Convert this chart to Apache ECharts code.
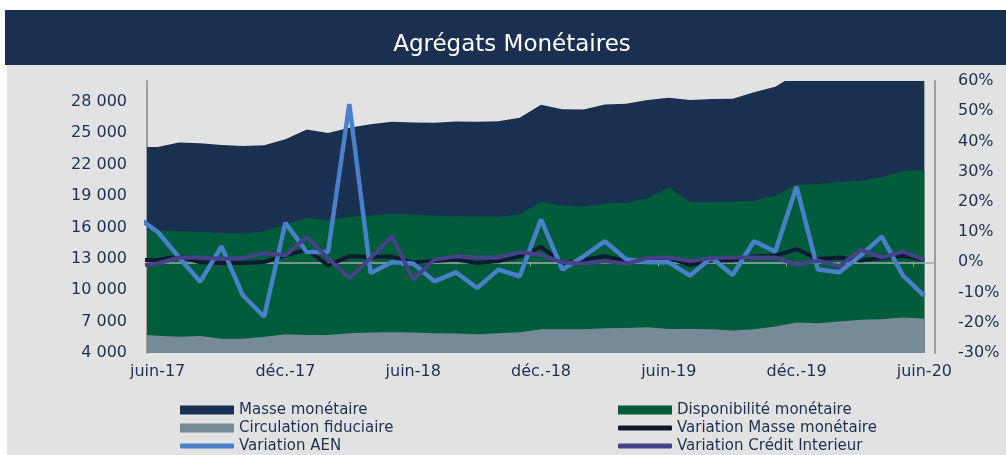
<!DOCTYPE html>
<html>
<head>
<meta charset="utf-8">
<title>Agrégats Monétaires</title>
<script src="https://cdn.jsdelivr.net/npm/echarts@6.0.0/dist/echarts.min.js"></script>
<style>
  html, body { margin: 0; padding: 0; background: #fff; }
  #chart { width: 1006px; height: 455px; }
</style>
</head>
<body>
<div id="chart"></div>
<script>
// mois : mai-17 ne sert qu'au départ des courbes (coupé par le cadre)
var mois = ['mai-17', 'juin-17', 'juil.-17', 'août-17', 'sept.-17', 'oct.-17', 'nov.-17', 'déc.-17',
    'janv.-18', 'févr.-18', 'mars-18', 'avr.-18', 'mai-18', 'juin-18', 'juil.-18', 'août-18', 'sept.-18', 'oct.-18', 'nov.-18', 'déc.-18',
    'janv.-19', 'févr.-19', 'mars-19', 'avr.-19', 'mai-19', 'juin-19', 'juil.-19', 'août-19', 'sept.-19', 'oct.-19', 'nov.-19', 'déc.-19',
    'janv.-20', 'févr.-20', 'mars-20', 'avr.-20', 'mai-20', 'juin-20'];

// encours (axe gauche)
var masseMonetaire = [23700, 23700, 24120, 24050, 23890, 23790, 23860, 24430, 25370, 25040, 25540, 25870, 26100,
    26040, 26000, 26140, 26100, 26160, 26480, 27730, 27310, 27280, 27760, 27820, 28180, 28400, 28180, 28270,
    28300, 28920, 29450, 30700, 30800, 31000, 31200, 31400, 31600, 31800];
var disponibilite = [15780, 15700, 15640, 15580, 15480, 15420, 15640, 16280, 16920, 16690, 17020, 17140, 17320,
    17210, 17110, 17080, 17050, 17020, 17240, 18460, 18100, 17980, 18300, 18360, 18800, 19850, 18420, 18420,
    18490, 18550, 19060, 20090, 20150, 20340, 20470, 20790, 21390, 21460];
var circulation = [5800, 5660, 5560, 5630, 5370, 5370, 5560, 5790, 5730, 5730, 5890, 5950, 5980,
    5950, 5890, 5860, 5790, 5890, 5980, 6270, 6270, 6270, 6370, 6400, 6470, 6300, 6300, 6270,
    6140, 6270, 6530, 6910, 6850, 7000, 7170, 7230, 7390, 7290];

// variations en % (axe droit)
var variationMasse = [0.8, 0.8, 2.0, 0.0, -0.2, -0.2, 0.1, 2.3, 4.2, -1.0, 2.0, 1.8, 1.9,
    0.0, 0.4, 0.9, -0.2, 0.4, 2.0, 5.1, -0.2, 0.9, 2.0, 0.4, 0.4, 1.4, -0.8, 0.6,
    0.6, 1.9, 2.2, 4.4, 1.1, 1.6, 0.6, 1.4, 2.2, 0.8];
var variationAEN = [15.1, 10.1, 1.7, -6.4, 5.3, -10.9, -18.0, 13.1, 3.4, 3.4, 52.4, -3.5, 0.0,
    -0.4, -6.3, -3.3, -8.5, -2.4, -4.6, 14.2, -2.4, 2.0, 7.0, 1.0, 0.0, 0.0, -4.4, 1.6,
    -4.2, 7.0, 3.6, 25.0, -2.4, -3.3, 2.2, 8.5, -4.4, -11.1];
var variationCredit = [-1.2, -0.4, 1.6, 1.6, 1.2, 1.4, 3.1, 2.3, 8.4, 1.4, -5.3, 1.4, 8.6,
    -5.6, 0.9, 2.0, 1.6, 1.6, 3.3, 2.5, 0.0, -0.5, 0.4, -0.5, 1.4, 1.6, 0.4, 1.4,
    1.6, 1.6, 1.6, -0.8, 0.6, -1.3, 4.2, 1.6, 3.5, 0.8];

// axes
var etiquettesX = [1, 7, 13, 19, 25, 31, 37];
var reperesZero = [6.5, 12.5, 18.5, 24.5, 30.5, 36.5];
var ticksGauche = [4000, 7000, 10000, 13000, 16000, 19000, 22000, 25000, 28000];

var bleuNuit = '#1b3050';
var police = '"DejaVu Sans", sans-serif';

function points(valeurs) {
    return valeurs.map(function (v, i) { return [i, v]; });
}

function milliers(v) {
    return String(v).replace(/\B(?=(\d{3})+(?!\d))/g, ' ');
}

function aire(nom, valeurs, couleur) {
    return {
        name: nom, type: 'line', xAxisIndex: 0, yAxisIndex: 0,
        data: points(valeurs), symbol: 'none', color: couleur,
        itemStyle: { color: couleur },
        lineStyle: { width: 0 },
        areaStyle: { color: couleur, opacity: 1, origin: 'start' },
        z: 2
    };
}

function courbe(nom, valeurs, couleur, largeur) {
    return {
        name: nom, type: 'line', xAxisIndex: 0, yAxisIndex: 1,
        data: points(valeurs), symbol: 'none', color: couleur,
        itemStyle: { color: couleur },
        lineStyle: { width: largeur, color: couleur },
        z: 5
    };
}

// une légende par entrée, pour tenir la mise en page sur deux colonnes
function legende(nom, x, y, estLigne) {
    return {
        left: x, top: y, itemWidth: 54, itemHeight: estLigne ? 5 : 9,
        selectedMode: false,
        textStyle: { color: bleuNuit, fontSize: 15, fontFamily: police, lineHeight: 16 },
        data: [{ name: nom, icon: estLigne ? 'roundRect' : 'rect' }]
    };
}

var chart = echarts.init(document.getElementById('chart'));

var option = {
    backgroundColor: '#ffffff',
    animation: false,
    graphic: [
        { type: 'rect', shape: { x: 5, y: 10, width: 1001, height: 55 }, style: { fill: bleuNuit }, z: -10 },
        { type: 'rect', shape: { x: 7, y: 65, width: 999, height: 390 }, style: { fill: '#e2e2e2' }, z: -10 },
        {
            type: 'text', x: 512, y: 45, z: 10,
            style: { text: 'Agrégats Monétaires', fill: '#ffffff', font: '23px ' + police, align: 'center', verticalAlign: 'middle' }
        }
    ],
    grid: { left: 147, right: 71, top: 81, bottom: 102 },
    legend: [
        legende('Masse monétaire', 175, 397, false),
        legende('Circulation fiduciaire', 175, 415, false),
        legende('Variation AEN', 175, 433, true),
        legende('Disponibilité monétaire', 613, 397, false),
        legende('Variation Masse monétaire', 613, 415, true),
        legende('Variation Crédit Interieur', 613, 433, true)
    ],
    xAxis: [{
        type: 'value', min: 0.5, max: 37.5, position: 'bottom',
        axisLine: { show: false, onZero: false },
        axisTick: { show: false },
        splitLine: { show: false },
        axisLabel: {
            customValues: etiquettesX, color: bleuNuit, fontSize: 16, fontFamily: police, margin: 11,
            formatter: function (v) { return mois[Math.round(v)]; }
        }
    }, {
        type: 'value', min: 0.5, max: 37.5, z: 3,
        axisLine: { show: true, onZero: true, onZeroAxisIndex: 1, lineStyle: { color: '#a8a8a8', width: 1.5 } },
        axisTick: { show: true, inside: true, customValues: reperesZero, length: 4, lineStyle: { color: '#a8a8a8' } },
        axisLabel: { show: false },
        splitLine: { show: false }
    }],
    yAxis: [{
        type: 'value', position: 'left', min: 4000, max: 30000,
        axisLine: { show: true, lineStyle: { color: '#9d9d9d', width: 2 } },
        axisTick: { show: false },
        splitLine: { show: false },
        axisLabel: {
            customValues: ticksGauche, color: bleuNuit, fontSize: 16, fontFamily: police, margin: 20,
            padding: [4, 0, 0, 0], formatter: milliers
        }
    }, {
        type: 'value', position: 'right', min: -30, max: 60, interval: 10,
        axisLine: { show: true, lineStyle: { color: '#9d9d9d', width: 2 } },
        axisTick: { show: false },
        splitLine: { show: false },
        axisLabel: {
            color: bleuNuit, fontSize: 16, fontFamily: police, margin: 23,
            padding: [7, 0, 0, 0], formatter: '{value}%'
        }
    }],
    series: [
        aire('Masse monétaire', masseMonetaire, '#1a3050'),
        aire('Disponibilité monétaire', disponibilite, '#005c3b'),
        aire('Circulation fiduciaire', circulation, '#778a97'),
        courbe('Variation Masse monétaire', variationMasse, '#0e1a2e', 4),
        courbe('Variation AEN', variationAEN, '#4a7fc9', 4.5),
        courbe('Variation Crédit Interieur', variationCredit, '#46418a', 4)
    ]
};

chart.setOption(option);
</script>
</body>
</html>
